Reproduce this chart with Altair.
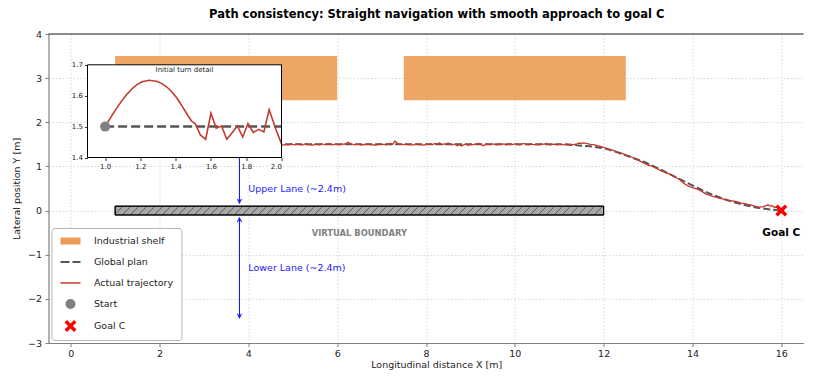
import altair as alt
import numpy as np
import pandas as pd

FONT = "DejaVu Sans"

# ---------------- data ----------------
TITLE = "Path consistency: Straight navigation with smooth approach to goal C"
X_TITLE = "Longitudinal distance X [m]"
Y_TITLE = "Lateral position Y [m]"

X_DOMAIN = [-0.5, 16.5]
Y_DOMAIN = [-3.0, 4.0]
X_TICKS = [0, 2, 4, 6, 8, 10, 12, 14, 16]
Y_TICKS = [-3, -2, -1, 0, 1, 2, 3, 4]

SHELF_X0 = [1.0, 7.5]
SHELF_X1 = [6.0, 12.5]
SHELF_Y0 = [2.5, 2.5]
SHELF_Y1 = [3.5, 3.5]

BOUND_X = [1.0, 12.0]
BOUND_Y = [-0.1, 0.1]

PLAN_X = [1.0, 11.0, 11.5, 12.0, 12.5, 13.0, 13.5, 14.0, 14.5, 15.0, 15.5, 16.0]
PLAN_Y = [1.5, 1.5, 1.47, 1.41, 1.25, 1.06, 0.82, 0.57, 0.34, 0.17, 0.06, 0.0]

TRAJ_HEAD_X = [1.00, 1.03, 1.06, 1.09, 1.12, 1.15, 1.18, 1.21,
               1.25, 1.29, 1.32, 1.35, 1.38, 1.41, 1.44, 1.47,
               1.49, 1.51, 1.54, 1.57, 1.60, 1.63, 1.66, 1.69,
               1.72, 1.75, 1.78, 1.81, 1.84, 1.87, 1.90, 1.93,
               1.97, 2.00]
TRAJ_HEAD_Y = [1.500, 1.528, 1.555, 1.580, 1.602, 1.621, 1.636, 1.645,
               1.650, 1.647, 1.640, 1.628, 1.611, 1.590, 1.563, 1.535,
               1.518, 1.510, 1.473, 1.459, 1.543, 1.495, 1.502, 1.459,
               1.480, 1.502, 1.466, 1.510, 1.481, 1.491, 1.483, 1.555,
               1.488, 1.445]

# straight section, sampled every 0.05 m from 2.05 to 11.50
TRAJ_MID_Y = [
    1.47, 1.49, 1.51, 1.48, 1.52, 1.49, 1.50, 1.53, 1.49, 1.51,
    1.48, 1.50, 1.52, 1.49, 1.47, 1.51, 1.50, 1.53, 1.48, 1.50,
    1.51, 1.49, 1.52, 1.50, 1.48, 1.51, 1.49, 1.50, 1.52, 1.48,
    1.50, 1.51, 1.49, 1.52, 1.50, 1.48, 1.51, 1.49, 1.50, 1.53,
    1.49, 1.47, 1.50, 1.51, 1.48, 1.50, 1.49, 1.51, 1.48, 1.50,
    1.49, 1.51, 1.48, 1.50, 1.49, 1.485, 1.50, 1.49, 1.51, 1.50,
    1.49, 1.51, 1.50, 1.485, 1.50, 1.515, 1.49, 1.50, 1.48, 1.505,
    1.50, 1.49, 1.51, 1.50, 1.495, 1.52, 1.50, 1.49, 1.505, 1.50,
    1.49, 1.51, 1.50, 1.52, 1.545, 1.51, 1.50, 1.49, 1.505, 1.50,
    1.485, 1.50, 1.495, 1.51, 1.49, 1.50, 1.48, 1.495, 1.51, 1.50,
    1.50, 1.49, 1.51, 1.52, 1.50, 1.575, 1.53, 1.505, 1.50, 1.495,
    1.51, 1.49, 1.50, 1.485, 1.50, 1.51, 1.49, 1.50, 1.48, 1.505,
    1.50, 1.51, 1.495, 1.52, 1.50, 1.535, 1.49, 1.51, 1.50, 1.53,
    1.50, 1.49, 1.51, 1.47, 1.50, 1.465, 1.49, 1.51, 1.48, 1.50,
    1.49, 1.505, 1.50, 1.52, 1.49, 1.47, 1.51, 1.50, 1.495, 1.51,
    1.50, 1.49, 1.505, 1.50, 1.51, 1.49, 1.50, 1.505, 1.495, 1.51,
    1.50, 1.49, 1.505, 1.52, 1.50, 1.49, 1.51, 1.50, 1.495, 1.50,
    1.49, 1.51, 1.50, 1.52, 1.50, 1.49, 1.505, 1.50, 1.49, 1.505,
    1.50, 1.49, 1.51, 1.50, 1.505, 1.49, 1.50, 1.51, 1.53, 1.52,
]
TRAJ_MID_START, TRAJ_MID_END = 2.05, 11.50

TRAJ_TAIL_X = [11.55, 11.6, 11.7, 11.8, 11.9, 12.0, 12.1, 12.2, 12.3, 12.4,
               12.5, 12.6, 12.7, 12.8, 12.9, 13.0, 13.1, 13.2, 13.3, 13.4,
               13.5, 13.6, 13.7, 13.8, 13.9, 14.0, 14.1, 14.2, 14.3, 14.4,
               14.5, 14.6, 14.7, 14.8, 14.9, 15.0, 15.1, 15.2, 15.3, 15.4,
               15.5, 15.6, 15.7, 15.75, 15.8, 15.85, 15.9, 15.95]
TRAJ_TAIL_Y = [1.535, 1.52, 1.50, 1.49, 1.46, 1.43, 1.40, 1.37, 1.33, 1.30,
               1.26, 1.23, 1.18, 1.13, 1.08, 1.03, 1.00, 0.95, 0.90, 0.86,
               0.82, 0.76, 0.71, 0.62, 0.56, 0.52, 0.49, 0.44, 0.38, 0.34,
               0.31, 0.28, 0.26, 0.23, 0.22, 0.20, 0.17, 0.15, 0.13, 0.10,
               0.08, 0.09, 0.13, 0.10, 0.11, 0.07, 0.08, 0.05]

START = (1.0, 1.5)
GOAL = (16.0, 0.0)

ARROW_X = 3.8
UPPER_ARROW = (0.1, 2.5)
LOWER_ARROW = (-0.1, -2.5)

LEGEND_ITEMS = ["Industrial shelf", "Global plan", "Actual trajectory", "Start", "Goal C"]

INSET_X_DOMAIN = [0.9, 2.0]
INSET_Y_DOMAIN = [1.4, 1.7]
INSET_X_TICKS = [1.0, 1.2, 1.4, 1.6, 1.8, 2.0]
INSET_Y_TICKS = [1.4, 1.5, 1.6, 1.7]

# ---------------- styles / layout ----------------
W, H = 755, 309
IN_L, IN_R, IN_T, IN_B = 39.0, 233.0, 30.8, 123.5
TITLE_CX, TITLE_Y, XTITLE_Y = 388.2, -19.1, H + 22

C_SHELF = "#EC9C57"
C_PLAN = "#555555"
C_TRAJ = "#C4392C"
C_START = "#808080"
C_GOAL = "#FF0000"
C_LANE = "#1a1aff"

SHELF_PATH = "M-2,-0.7H2V0.7H-2Z"
DASH_PATH = "M-2,-0.2H-0.2V0.2H-2Z M0.4,-0.2H2V0.2H0.4Z"
LINE_PATH = "M-2,-0.15H2V0.15H-2Z"
X_PATH = ("M0,-0.49L0.7,-1.2L1.2,-0.7L0.49,0L1.2,0.7L0.7,1.2L0,0.49"
          "L-0.7,1.2L-1.2,0.7L-0.49,0L-1.2,-0.7L-0.7,-1.2Z")
HEAD_DOWN = "M-1,-2L0,0L1,-2"
HEAD_UP = "M-1,2L0,0L1,2"
HEAD_SHRINK = 0.07
HATCH_STEP = 0.18

# ---------------- tables ----------------
shelves = pd.DataFrame({"x": SHELF_X0, "x2": SHELF_X1, "y": SHELF_Y0, "y2": SHELF_Y1})
boundary = pd.DataFrame({"x": [BOUND_X[0]], "x2": [BOUND_X[1]], "y": [BOUND_Y[0]], "y2": [BOUND_Y[1]]})

rise = BOUND_Y[1] - BOUND_Y[0]
hatch_rows = []
for s in np.arange(BOUND_X[0] - rise, BOUND_X[1], HATCH_STEP):
    xa, ya, xb, yb = s, BOUND_Y[0], s + rise, BOUND_Y[1]
    if xa < BOUND_X[0]:
        ya += BOUND_X[0] - xa
        xa = BOUND_X[0]
    if xb > BOUND_X[1]:
        yb -= xb - BOUND_X[1]
        xb = BOUND_X[1]
    if xb > xa:
        hatch_rows.append({"x": xa, "x2": xb, "y": ya, "y2": yb})
hatch = pd.DataFrame(hatch_rows)

plan = pd.DataFrame({"x": PLAN_X, "y": PLAN_Y})
mid_x = list(np.round(np.linspace(TRAJ_MID_START, TRAJ_MID_END, len(TRAJ_MID_Y)), 3))
traj = pd.DataFrame({"x": TRAJ_HEAD_X + mid_x + TRAJ_TAIL_X,
                     "y": TRAJ_HEAD_Y + TRAJ_MID_Y + TRAJ_TAIL_Y})
traj["o"] = range(len(traj))

arrows = pd.DataFrame({"x": [ARROW_X, ARROW_X],
                       "y": [UPPER_ARROW[0] + HEAD_SHRINK, LOWER_ARROW[0] - HEAD_SHRINK],
                       "y2": [UPPER_ARROW[1] - HEAD_SHRINK, LOWER_ARROW[1] + HEAD_SHRINK]})
heads_down = pd.DataFrame({"x": [ARROW_X, ARROW_X],
                           "y": [UPPER_ARROW[0] + HEAD_SHRINK, LOWER_ARROW[1] + HEAD_SHRINK]})
heads_up = pd.DataFrame({"x": [ARROW_X, ARROW_X],
                         "y": [UPPER_ARROW[1] - HEAD_SHRINK, LOWER_ARROW[0] - HEAD_SHRINK]})

lane_text = pd.DataFrame({"x": [4.0, 4.0], "y": [0.5, -1.3],
                          "t": ["Upper Lane (~2.4m)", "Lower Lane (~2.4m)"]})
bound_text = pd.DataFrame({"x": [6.5], "y": [-0.5], "t": ["VIRTUAL BOUNDARY"]})
goal_text = pd.DataFrame({"x": [GOAL[0]], "y": [-0.5], "t": ["Goal C"]})
markers = pd.DataFrame({"x": [START[0], GOAL[0]], "y": [START[1], GOAL[1]], "item": ["Start", "Goal C"]})
top_spine = pd.DataFrame({"x": [X_DOMAIN[0]], "x2": [X_DOMAIN[1]], "y": [Y_DOMAIN[1]]})
title_df = pd.DataFrame({"t": [TITLE]})
xtitle_df = pd.DataFrame({"t": [X_TITLE]})

inset_box = pd.DataFrame({"x": [INSET_X_DOMAIN[0]], "x2": [INSET_X_DOMAIN[1]],
                          "y": [INSET_Y_DOMAIN[0]], "y2": [INSET_Y_DOMAIN[1]]})
inset_plan = pd.DataFrame({"x": [START[0], INSET_X_DOMAIN[1]], "y": [START[1], START[1]]})
inset_start = pd.DataFrame({"x": [START[0]], "y": [START[1]]})
inset_title = pd.DataFrame({"x": [sum(INSET_X_DOMAIN) / 2], "y": [1.683], "t": ["Initial turn detail"]})

# ---------------- scales / axes ----------------
xs = alt.Scale(domain=X_DOMAIN, nice=False, zero=False)
ys = alt.Scale(domain=Y_DOMAIN, nice=False, zero=False)
axis_common = dict(labelFont=FONT, titleFont=FONT, labelFontSize=9.5, titleFontSize=9.5,
                   titleFontWeight="normal", labelColor="#222222", titleColor="#222222",
                   domainColor="#7f7f7f", domainWidth=1.2, tickColor="#7f7f7f", tickSize=3.5,
                   tickWidth=1, grid=True, gridColor="#cfcfcf", gridDash=[1.5, 2], gridWidth=0.8)
x_axis = alt.Axis(values=X_TICKS, title=None, labelPadding=2, **axis_common)
y_axis = alt.Axis(values=Y_TICKS, title=Y_TITLE, labelPadding=3.5,
                  titlePadding=6.3, minExtent=21, maxExtent=21, **axis_common)


def MX(f="x"):
    return alt.X(f"{f}:Q", scale=xs, axis=x_axis)


def MY(f="y"):
    return alt.Y(f"{f}:Q", scale=ys, axis=y_axis)


ixs = alt.Scale(domain=INSET_X_DOMAIN, range=[IN_L, IN_R], nice=False, zero=False)
iys = alt.Scale(domain=INSET_Y_DOMAIN, range=[IN_B, IN_T], nice=False, zero=False)
inset_axis_common = dict(grid=False, domain=False, tickSize=3, tickColor="#000000", tickWidth=0.8,
                         labelFont=FONT, labelFontSize=7, labelColor="#222222", title=None,
                         zindex=1, format=".1f")
ix_axis = alt.Axis(values=INSET_X_TICKS, orient="bottom", offset=-(H - IN_B), labelPadding=1.5,
                   **inset_axis_common)
iy_axis = alt.Axis(values=INSET_Y_TICKS, orient="left", offset=-IN_L, labelPadding=2,
                   **inset_axis_common)


def IX(f="x"):
    return alt.X(f"{f}:Q", scale=ixs, axis=ix_axis)


def IY(f="y"):
    return alt.Y(f"{f}:Q", scale=iys, axis=iy_axis)


# ---------------- main layers ----------------
l_shelf = alt.Chart(shelves).mark_rect(color=C_SHELF, opacity=0.9).encode(
    x=MX(), x2="x2", y=MY(), y2="y2")
l_bound = alt.Chart(boundary).mark_rect(fill="#A9A9A9", stroke="#000000", strokeWidth=1).encode(
    x=MX(), x2="x2", y=MY(), y2="y2")
l_hatch = alt.Chart(hatch).mark_rule(color="#3a3a3a", strokeWidth=0.7).encode(
    x=MX(), x2="x2", y=MY(), y2="y2")
l_bound_edge = alt.Chart(boundary).mark_rect(fill="#ffffff", fillOpacity=0, stroke="#000000",
                                             strokeWidth=1).encode(x=MX(), x2="x2", y=MY(), y2="y2")
l_plan = alt.Chart(plan).mark_line(color=C_PLAN, strokeWidth=2, strokeDash=[7, 3],
                                   interpolate="monotone").encode(x=MX(), y=MY())
l_traj = alt.Chart(traj).mark_line(color=C_TRAJ, strokeWidth=1.3).encode(
    x=MX(), y=MY(), order="o:Q")
l_arrow = alt.Chart(arrows).mark_rule(color=C_LANE, strokeWidth=1.1).encode(
    x=MX(), y=MY(), y2="y2")
l_hd = alt.Chart(heads_down).mark_point(shape=HEAD_DOWN, size=16, filled=False, color=C_LANE,
                                        strokeWidth=1.1, opacity=1).encode(x=MX(), y=MY())
l_hu = alt.Chart(heads_up).mark_point(shape=HEAD_UP, size=16, filled=False, color=C_LANE,
                                      strokeWidth=1.1, opacity=1).encode(x=MX(), y=MY())
l_lane_text = alt.Chart(lane_text).mark_text(align="left", baseline="middle", font=FONT,
                                             fontSize=9.5, color=C_LANE).encode(
    x=MX(), y=MY(), text="t:N")
l_bound_text = alt.Chart(bound_text).mark_text(align="center", baseline="middle", font=FONT,
                                               fontSize=8.4, fontWeight="bold",
                                               color="#808080").encode(x=MX(), y=MY(), text="t:N")
l_goal_text = alt.Chart(goal_text).mark_text(align="center", baseline="middle", font=FONT,
                                             fontSize=10.5, fontWeight="bold",
                                             color="#000000").encode(x=MX(), y=MY(), text="t:N")
l_top = alt.Chart(top_spine).mark_rule(color="#222222", strokeWidth=1.2).encode(
    x=MX(), x2="x2", y=MY())
l_title = alt.Chart(title_df).mark_text(align="center", baseline="middle", font=FONT,
                                        fontSize=11.5, fontWeight="bold", color="#000000").encode(
    x=alt.value(TITLE_CX), y=alt.value(TITLE_Y), text="t:N")
l_xtitle = alt.Chart(xtitle_df).mark_text(align="center", baseline="middle", font=FONT,
                                          fontSize=9.5, color="#222222").encode(
    x=alt.value(TITLE_CX), y=alt.value(XTITLE_Y), text="t:N")

legend = alt.Legend(title=None, orient="bottom-left", offset=3, padding=8, fillColor="#ffffff",
                    strokeColor="#b5b5b5", cornerRadius=3, symbolOffset=6, labelOffset=18.5,
                    rowPadding=11, labelFont=FONT, labelFontSize=9.5, labelColor="#222222",
                    symbolSize=100, symbolStrokeWidth=0)
l_markers = alt.Chart(markers).mark_point(filled=True, size=100, opacity=1, strokeWidth=0).encode(
    x=MX(), y=MY(),
    color=alt.Color("item:N", scale=alt.Scale(domain=LEGEND_ITEMS,
                                              range=[C_SHELF, C_PLAN, C_TRAJ, C_START, C_GOAL]),
                    legend=legend),
    shape=alt.Shape("item:N", scale=alt.Scale(domain=LEGEND_ITEMS,
                                              range=[SHELF_PATH, DASH_PATH, LINE_PATH, "circle", X_PATH]),
                    legend=legend),
)

main = alt.layer(l_shelf, l_bound, l_hatch, l_bound_edge, l_plan, l_traj, l_arrow, l_hd, l_hu,
                 l_lane_text, l_bound_text, l_goal_text, l_markers, l_top, l_title, l_xtitle)

# ---------------- inset layers ----------------
i_bg = alt.Chart(inset_box).mark_rect(fill="#ffffff").encode(x=IX(), x2="x2", y=IY(), y2="y2")
i_plan = alt.Chart(inset_plan).mark_line(color=C_PLAN, strokeWidth=2.5, strokeDash=[9, 4]).encode(
    x=IX(), y=IY())
i_traj = alt.Chart(traj).transform_filter(alt.datum.x <= INSET_X_DOMAIN[1]).mark_line(
    color=C_TRAJ, strokeWidth=1.6).encode(x=IX(), y=IY(), order="o:Q")
i_start = alt.Chart(inset_start).mark_point(shape="circle", filled=True, size=100, color=C_START,
                                            opacity=1, strokeWidth=0).encode(x=IX(), y=IY())
i_title = alt.Chart(inset_title).mark_text(align="center", baseline="middle", font=FONT,
                                           fontSize=7, color="#222222").encode(x=IX(), y=IY(), text="t:N")
i_frame = alt.Chart(inset_box).mark_rect(fill="#ffffff", fillOpacity=0, stroke="#000000",
                                         strokeWidth=1).encode(x=IX(), x2="x2", y=IY(), y2="y2")

inset = alt.layer(i_bg, i_plan, i_traj, i_start, i_title, i_frame)

chart = alt.layer(main, inset).resolve_scale(x="independent", y="independent").properties(
    width=W, height=H,
    padding={"left": 2.5, "top": 0, "right": 0, "bottom": 1},
).configure_view(strokeWidth=0)

chart.save("out.html", embed_options={"renderer": "svg", "actions": False})
